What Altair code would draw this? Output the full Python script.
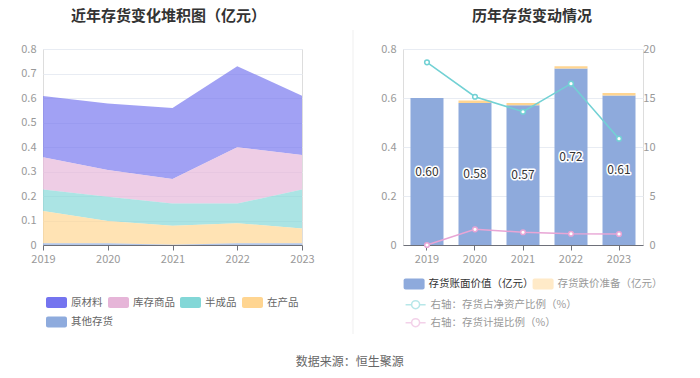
import altair as alt
import pandas as pd

# ---------------- data ----------------
years = ["2019", "2020", "2021", "2022", "2023"]

categories = ["原材料", "库存商品", "半成品", "在产品", "其他存货"]
raw_material = [0.250, 0.272, 0.290, 0.331, 0.242]
finished_goods = [0.131, 0.109, 0.100, 0.230, 0.140]
semi_finished = [0.088, 0.099, 0.090, 0.080, 0.160]
work_in_progress = [0.132, 0.091, 0.078, 0.082, 0.060]
other_inventory = [0.007, 0.007, 0.001, 0.007, 0.007]
category_colors = ["#7474ef", "#e6b5d8", "#83d7d7", "#ffd591", "#8eabdd"]

book_value = [0.60, 0.58, 0.57, 0.72, 0.61]
impairment = [0.00, 0.01, 0.01, 0.01, 0.01]
share_of_net_assets = [18.64, 15.13, 13.60, 16.46, 10.85]
provision_ratio = [0.00, 1.60, 1.30, 1.15, 1.12]

bar_names = ["存货账面价值（亿元）", "存货跌价准备（亿元）"]
bar_colors = ["#8eaadc", "#ffd591"]
line_names = ["右轴：存货占净资产比例（%）", "右轴：存货计提比例（%）"]
line_colors = ["#72d1d4", "#e8a5d5"]

left_title = "近年存货变化堆积图（亿元）"
right_title = "历年存货变动情况"
source_text = "数据来源：恒生聚源"

FONT = "Noto Sans CJK SC"
LABEL_GREY = "#999999"
GRID = "#e8ecf3"
AXIS_LINE = "#6e7079"

# legend symbols (unit paths, scaled by sqrt(size)/2)
RECT_PATH = ("M-1.13,-0.733H1.13A0.27,0.27,0,0,1,1.4,-0.463V0.463A0.27,0.27,0,0,1,1.13,0.733"
             "H-1.13A0.27,0.27,0,0,1,-1.4,0.463V-0.463A0.27,0.27,0,0,1,-1.13,-0.733Z")
LINE_PATH = ("M-1.333,0H-0.533M0.533,0H1.333M-0.533,0A0.533,0.533,0,1,0,0.533,0"
             "A0.533,0.533,0,1,0,-0.533,0")

# ---------------- left: stacked area ----------------
series = [raw_material, finished_goods, semi_finished, work_in_progress, other_inventory]
rows = []
for i, (cat, vals) in enumerate(zip(categories, series)):
    for y, v in zip(years, vals):
        rows.append({"year": y, "cat": cat, "value": v, "ord": len(categories) - 1 - i})
df_left = pd.DataFrame(rows)

main_cats = categories[:4]
last_cat = categories[4]

def rect_legend(x, y, label_color, opacity=1, **kw):
    return alt.Legend(
        title=None, orient="none", legendX=x, legendY=y, padding=0,
        symbolType=RECT_PATH, symbolSize=225, symbolStrokeWidth=0, symbolOpacity=opacity,
        labelFontSize=10.5, labelColor=label_color, labelOffset=7, labelFont=FONT, **kw,
    )

left_x = alt.X("year:O", scale=alt.Scale(type="point", padding=0),
               axis=alt.Axis(title=None, labelAngle=0, labelColor=LABEL_GREY, labelFontSize=11,
                             domainColor=AXIS_LINE, tickColor=AXIS_LINE, tickSize=5,
                             labelPadding=3, grid=False))
left_y = alt.Y("y1:Q", scale=alt.Scale(domain=[0, 0.8], nice=False),
               axis=alt.Axis(title=None, values=[0, 0.1, 0.2, 0.3, 0.4, 0.5, 0.6, 0.7, 0.8],
                             format=".1~f", domain=False, ticks=False, labelPadding=7,
                             labelColor=LABEL_GREY, labelFontSize=11, gridColor=GRID))

left_base = alt.Chart(df_left).transform_stack(
    stack="value", groupby=["year"], as_=["y0", "y1"],
    sort=[alt.SortField("ord", order="ascending")],
)

area_main = left_base.transform_filter(
    alt.FieldOneOfPredicate(field="cat", oneOf=main_cats)
).mark_area(opacity=0.68).encode(
    x=left_x, y=left_y, y2="y0:Q",
    color=alt.Color("cat:N", scale=alt.Scale(domain=main_cats, range=category_colors[:4]),
                    legend=rect_legend(6, 246, "#666666", direction="horizontal", columns=4,
                                       columnPadding=5)),
)
area_other = left_base.transform_filter(
    alt.FieldEqualPredicate(field="cat", equal=last_cat)
).mark_area(opacity=0.68).encode(
    x=left_x, y=left_y, y2="y0:Q",
    fill=alt.Fill("cat:N", scale=alt.Scale(domain=[last_cat], range=category_colors[4:]),
                  legend=rect_legend(6, 265.6, "#666666")),
)

left = alt.layer(area_main, area_other).properties(
    width=259, height=196,
    title=alt.TitleParams(left_title, fontSize=15, fontWeight="bold", color="#333333",
                          anchor="middle", offset=19, dx=-4, font=FONT),
)

# ---------------- right: bars + lines ----------------
df_bar = pd.DataFrame({
    "year": years, "bv": book_value, "imp": impairment,
    "bar_name": bar_names[0], "imp_name": bar_names[1],
})
line_rows = []
for name, vals in zip(line_names, [share_of_net_assets, provision_ratio]):
    for y, v in zip(years, vals):
        line_rows.append({"year": y, "name": name, "value": v})
df_line = pd.DataFrame(line_rows)

x_band = alt.X("year:N", scale=alt.Scale(paddingInner=0.3125, paddingOuter=0.156),
               axis=alt.Axis(title=None, labelAngle=0, labelColor=LABEL_GREY, labelFontSize=11,
                             domainColor=AXIS_LINE, tickColor=AXIS_LINE, tickSize=5,
                             labelPadding=3, grid=False))
y_left_axis = alt.Axis(title=None, values=[0, 0.2, 0.4, 0.6, 0.8], format=".1~f", domain=False,
                       ticks=False, labelPadding=7, labelColor=LABEL_GREY, labelFontSize=11,
                       gridColor=GRID)
y_left_scale = alt.Scale(domain=[0, 0.8], nice=False)

legend_a = rect_legend(3.6, 227.5, "#333333")
legend_b = rect_legend(132.6, 227.5, LABEL_GREY, opacity=0.5)
legend_c = alt.Legend(title=None, orient="none", legendX=4.1, legendY=247.2, padding=0,
                      direction="vertical", columns=1, rowPadding=2,
                      symbolType=LINE_PATH, symbolSize=225, symbolStrokeWidth=1.5,
                      symbolFillColor="white", symbolOpacity=0.5,
                      labelFontSize=10.5, labelColor=LABEL_GREY, labelOffset=6.5, labelFont=FONT)

bar_base = alt.Chart(df_bar).transform_calculate(
    top="datum.bv + datum.imp", mid="datum.bv / 2"
)

bars_value = bar_base.mark_bar().encode(
    x=x_band,
    y=alt.Y("bv:Q", scale=y_left_scale, axis=y_left_axis),
    color=alt.Color("bar_name:N", scale=alt.Scale(domain=[bar_names[0]], range=[bar_colors[0]]),
                    legend=legend_a),
)
bars_imp = bar_base.mark_bar().encode(
    x=x_band,
    y=alt.Y("bv:Q", scale=y_left_scale, axis=y_left_axis),
    y2="top:Q",
    fill=alt.Fill("imp_name:N", scale=alt.Scale(domain=[bar_names[1]], range=[bar_colors[1]]),
                  legend=legend_b),
)
label_halo = bar_base.mark_text(fontSize=12, font=FONT, stroke="white", strokeWidth=3,
                                fill="white", strokeJoin="round").encode(
    x=x_band,
    y=alt.Y("mid:Q", scale=y_left_scale, axis=y_left_axis),
    text=alt.Text("bv:Q", format=".2f"),
)
label_text = bar_base.mark_text(fontSize=12, font=FONT, fill="#333333").encode(
    x=x_band,
    y=alt.Y("mid:Q", scale=y_left_scale, axis=y_left_axis),
    text=alt.Text("bv:Q", format=".2f"),
)
divider = alt.Chart(pd.DataFrame({"d": [0]})).mark_rule(color="#efefef", strokeWidth=1).encode(
    x=alt.value(-50), y=alt.value(-19), y2=alt.value(285)
)

y_right = alt.Y("value:Q", scale=alt.Scale(domain=[0, 20], nice=False),
                axis=alt.Axis(title=None, orient="right", values=[0, 5, 10, 15, 20], domain=False,
                              ticks=False, grid=False, labelAlign="right", labelPadding=12,
                              labelColor=LABEL_GREY, labelFontSize=11))
stroke_enc = alt.Stroke("name:N", scale=alt.Scale(domain=line_names, range=line_colors),
                        legend=legend_c)

lines = alt.Chart(df_line).mark_line(strokeWidth=1.5).encode(x=x_band, y=y_right, stroke=stroke_enc)
points = alt.Chart(df_line).mark_point(shape="circle", filled=False, fill="white", fillOpacity=1,
                                       size=22, strokeWidth=1.5, opacity=1).encode(
    x=x_band, y=y_right, stroke=stroke_enc)

right = (
    alt.layer(
        alt.layer(divider, bars_value, bars_imp, label_halo, label_text),
        alt.layer(lines, points),
    )
    .resolve_scale(y="independent")
    .properties(
        width=240, height=196,
        title=alt.TitleParams(right_title, fontSize=15, fontWeight="bold", color="#333333",
                              anchor="middle", offset=6, dx=9, font=FONT),
    )
)

chart = (
    alt.hconcat(left, right, spacing=101, bounds="flush")
    .resolve_scale(color="independent", fill="independent", stroke="independent")
    .resolve_legend(color="independent", fill="independent", stroke="independent")
    .properties(
        padding={"left": 12, "top": 0, "right": 0, "bottom": 0},
        title=alt.TitleParams(source_text, orient="bottom", anchor="middle", fontSize=12,
                              fontWeight="normal", color="#666666", offset=22, dx=8, font=FONT),
    )
    .configure_view(stroke=None)
    .configure(font=FONT)
)

chart.save("out.html", embed_options={"renderer": "svg", "actions": False})
